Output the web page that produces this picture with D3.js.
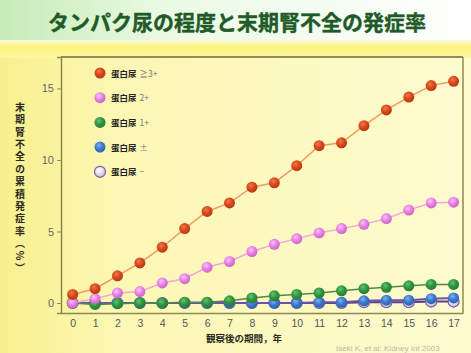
<!DOCTYPE html>
<html>
<head>
<meta charset="utf-8">
<script src="https://cdn.jsdelivr.net/npm/d3@7"></script>
<style>
  html, body { margin: 0; padding: 0; background: #fdf9c4; }
  svg { display: block; }
</style>
</head>
<body>
<svg id="chart" width="471" height="353"></svg>
<script>
// Cumulative incidence of ESRD (%) by degree of proteinuria, years 0–17
const years = d3.range(0, 18);
const seriesNames = ["蛋白尿 ≧3+", "蛋白尿 2+", "蛋白尿 1+", "蛋白尿 ±", "蛋白尿 −"];
const protein3 = [0.6, 1.0, 1.9, 2.8, 3.9, 5.2, 6.4, 7.0, 8.1, 8.4, 9.6, 11.0, 11.2, 12.4, 13.5, 14.4, 15.2, 15.5];
const protein2 = [0.0, 0.3, 0.7, 0.8, 1.4, 1.7, 2.5, 2.9, 3.6, 4.1, 4.5, 4.9, 5.2, 5.5, 5.9, 6.5, 7.0, 7.05];
const protein1 = [0.0, -0.1, -0.05, 0.0, 0.0, 0.05, 0.05, 0.15, 0.35, 0.5, 0.6, 0.7, 0.85, 1.0, 1.1, 1.2, 1.3, 1.3];
const proteinPM = [0.0, 0.0, 0.0, 0.0, 0.0, 0.0, 0.0, 0.0, 0.0, 0.0, 0.0, 0.05, 0.05, 0.15, 0.2, 0.2, 0.3, 0.35];
const proteinNeg = [0.0, 0.0, 0.0, 0.0, 0.0, 0.0, 0.0, 0.0, 0.0, 0.0, 0.0, 0.0, 0.0, 0.05, 0.05, 0.05, 0.1, 0.1];
const yTicks = [0, 5, 10, 15];
const titleText = "タンパク尿の程度と末期腎不全の発症率";
const yTitle = "末期腎不全の累積発症率（%）";
const xTitle = "観察後の期間，年";
const citation = "Iseki K, et al: Kidney Int 2003";

const styles = [
  { dot: "#d8461a", hi: "#f07a48", line: "#f29a62" },
  { dot: "#ea7ee6", hi: "#f8c4f6", line: "#f2a6dc" },
  { dot: "#2f9440", hi: "#5fc46a", line: "#4e8a44" },
  { dot: "#3a78cc", hi: "#7fb0f0", line: "#6a52a8" },
  { dot: "#e8dcf4", hi: "#ffffff", line: "#5a3e86" }
];
const data = [protein3, protein2, protein1, proteinPM, proteinNeg];

const svg = d3.select("#chart");
const W = 471, H = 353;
const defs = svg.append("defs");

// Background: pale yellow body, green-to-white header
const bg = defs.append("linearGradient").attr("id", "bgGrad").attr("x1", 0).attr("x2", 1).attr("y1", 0).attr("y2", 0);
bg.append("stop").attr("offset", "0%").attr("stop-color", "#f8f08e");
bg.append("stop").attr("offset", "25%").attr("stop-color", "#fcf7b4");
bg.append("stop").attr("offset", "100%").attr("stop-color", "#fdfbd0");
svg.append("rect").attr("width", W).attr("height", H).attr("fill", "url(#bgGrad)");

const hdr = defs.append("linearGradient").attr("id", "hdrGrad").attr("x1", 0).attr("x2", 1).attr("y1", 0).attr("y2", 0);
hdr.append("stop").attr("offset", "0%").attr("stop-color", "#c6ecb8");
hdr.append("stop").attr("offset", "35%").attr("stop-color", "#eafae4");
hdr.append("stop").attr("offset", "100%").attr("stop-color", "#ffffff");
svg.append("rect").attr("width", W).attr("height", 40).attr("fill", "url(#hdrGrad)");

const strip = defs.append("linearGradient").attr("id", "stripGrad").attr("x1", 0).attr("x2", 0).attr("y1", 0).attr("y2", 1);
strip.append("stop").attr("offset", "0%").attr("stop-color", "#fefbe0");
strip.append("stop").attr("offset", "40%").attr("stop-color", "#fdf47c");
strip.append("stop").attr("offset", "100%").attr("stop-color", "#fcf6a8");
svg.append("rect").attr("y", 40).attr("width", W).attr("height", 18).attr("fill", "url(#stripGrad)");

// Title
svg.append("text")
  .attr("x", 237).attr("y", 30)
  .attr("text-anchor", "middle")
  .attr("font-family", "Noto Sans CJK JP")
  .attr("font-weight", 700)
  .attr("font-size", 21)
  .attr("fill", "#1f5a28")
  .attr("stroke", "#1f5a28").attr("stroke-width", 0.4)
  .text(titleText);

// Marker shading
styles.forEach((s, i) => {
  const g = defs.append("radialGradient").attr("id", "dot" + i)
    .attr("cx", "40%").attr("cy", "35%").attr("r", "65%");
  g.append("stop").attr("offset", "0%").attr("stop-color", s.hi);
  g.append("stop").attr("offset", "55%").attr("stop-color", s.dot);
  g.append("stop").attr("offset", "100%").attr("stop-color", d3.color(s.dot).darker(0.5));
});

// Scales
const x = d3.scaleLinear().domain([-0.52, 17.42]).range([61, 463]);
const y = d3.scaleLinear().domain([-0.7, 17.2]).range([313, 57]);

// Plot frame
const frame = svg.append("g");
frame.append("line").attr("x1", 61).attr("x2", 463).attr("y1", 57).attr("y2", 57)
  .attr("stroke", "#6e6a3a").attr("stroke-width", 1.5);
frame.append("line").attr("x1", 463).attr("x2", 463).attr("y1", 57).attr("y2", 313)
  .attr("stroke", "#8c8a50").attr("stroke-width", 1.5);

// Axes
const yAxis = d3.axisLeft(y).tickValues(yTicks).tickSize(4).tickPadding(3);
const gy = svg.append("g").attr("transform", "translate(61,0)").call(yAxis);
gy.select(".domain").attr("stroke", "#8c8a50").attr("stroke-width", 1.5);
gy.selectAll(".tick line").attr("stroke", "#8c8a50");
gy.selectAll(".tick text").attr("font-family", "Liberation Sans").attr("font-size", 11).attr("fill", "#666");

const xAxis = d3.axisBottom(x).tickValues(years).tickSize(0).tickPadding(7).tickFormat(d3.format("d"));
const gx = svg.append("g").attr("transform", "translate(0,313)").call(xAxis);
gx.select(".domain").attr("stroke", "#8c8a50").attr("stroke-width", 1.5);
gx.selectAll(".tick text").attr("font-family", "Liberation Sans").attr("font-size", 10.5).attr("fill", "#555");

// Axis titles (vertical Japanese text on the left)
svg.append("text")
  .attr("x", 20).attr("y", 102)
  .attr("font-family", "Noto Sans CJK JP").attr("font-weight", 700)
  .attr("font-size", 10).attr("fill", "#2a2a20")
  .style("writing-mode", "vertical-rl")
  .style("letter-spacing", "2.4px")
  .text(yTitle);

svg.append("text")
  .attr("x", 244).attr("y", 342)
  .attr("text-anchor", "middle")
  .attr("font-family", "Noto Sans CJK JP").attr("font-weight", 700)
  .attr("font-size", 9.5).attr("fill", "#2a2a20")
  .text(xTitle);

svg.append("text")
  .attr("x", 336).attr("y", 351)
  .attr("font-family", "Liberation Sans").attr("font-size", 8)
  .attr("fill", "#b8b8a8")
  .text(citation);

// Series: lines then markers, drawn from the lowest group upward
const line = d3.line().x((d, i) => x(years[i])).y(d => y(d));
const order = [4, 3, 2, 1, 0];
order.forEach(k => {
  const s = styles[k];
  const g = svg.append("g");
  g.append("path").datum(data[k])
    .attr("d", line).attr("fill", "none")
    .attr("stroke", s.line).attr("stroke-width", k >= 3 ? 2 : 1.5);
  g.selectAll("circle").data(data[k]).join("circle")
    .attr("cx", (d, i) => x(years[i])).attr("cy", d => y(d))
    .attr("r", 5.5)
    .attr("fill", `url(#dot${k})`)
    .attr("stroke", k === 4 ? "#7a5aa8" : "none").attr("stroke-width", 1.2);
});

// Legend
const lg = svg.append("g").attr("transform", "translate(100,73)");
seriesNames.forEach((name, k) => {
  const row = lg.append("g").attr("transform", `translate(0,${k * 24.7})`);
  row.append("circle").attr("r", 5.5)
    .attr("fill", `url(#dot${k})`)
    .attr("stroke", k === 4 ? "#7a5aa8" : "none").attr("stroke-width", 1.2);
  const t = row.append("text").attr("x", 11).attr("y", 3.5)
    .attr("font-family", "Noto Sans CJK JP").attr("font-size", 8.5);
  const parts = name.split(" ");
  t.append("tspan").attr("font-weight", 700).attr("fill", "#222").text(parts[0]);
  t.append("tspan").attr("dx", 3).attr("fill", "#777").text(parts[1]);
});
</script>
</body>
</html>
